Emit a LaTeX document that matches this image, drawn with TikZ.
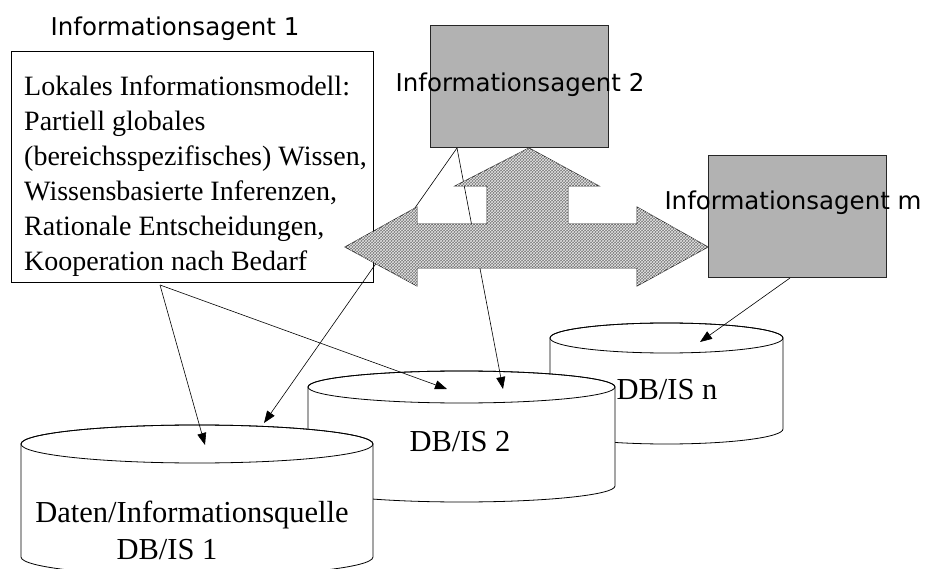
\documentclass[tikz,border=0pt]{standalone}
\usepackage{fontspec}
\setmainfont{Liberation Serif}
\newfontfamily\agentfont{DejaVu Sans}
\usetikzlibrary{arrows.meta,patterns}
\newcommand\dbcyl[5]{% cx, rx, top y, bottom y, ry
  \path[cylbody] (#1-#2,#3) -- (#1-#2,#4)
    arc[start angle=180,end angle=360,x radius=#2,y radius=#5]
    -- (#1+#2,#3)
    arc[start angle=0,end angle=180,x radius=#2,y radius=#5] -- cycle;
  \draw[cylline] (#1,#3) ellipse[x radius=#2,y radius=#5];
}
\begin{document}
\begin{tikzpicture}[x=1pt,y=1pt,
  cylbody/.style={draw=black,fill=white,line width=0.8pt},
  cylline/.style={draw=black,line width=0.8pt},
  dbtext/.style={font=\fontsize{30.5}{34}\selectfont,inner sep=0pt},
  conn/.style={-{Triangle[length=12pt,width=9pt]},line width=0.6pt},
  agentbox/.style={draw=black!85,fill=black!30,line width=0.8pt,
    minimum width=178pt,minimum height=122pt,inner sep=0pt,anchor=south west},
  agentlabel/.style={font=\agentfont\fontsize{24.5}{28}\selectfont,inner sep=0pt},
  bigarrow/.style={draw=black!85,fill=black!52,line width=0.8pt,
    postaction={pattern=crosshatch,pattern color=white!90!black}}
]
\path[use as bounding box,fill=white] (0,0) rectangle (926,568);
\clip (0,0) rectangle (926,568);

% cylinders, back to front
\dbcyl{666.5}{116.5}{230}{139}{15}
\dbcyl{461.5}{153.5}{181}{82}{16}
\dbcyl{197}{176}{124}{11}{19}

\node[dbtext] (dbn) at (667,178) {DB/IS n};
\node[dbtext] (db2) at (460,126) {DB/IS 2};
\node[dbtext] (db1a) at (192,53) {Daten/Informationsquelle};
\node[dbtext] (db1b) at (167,18) {DB/IS 1};

% text box of agent 1
\node[draw=black,line width=0.8pt,fill=white,minimum width=362pt,minimum height=231pt,
  inner sep=0pt,anchor=south west] (box1) at (11,285) {};
\node[font=\fontsize{28}{35}\selectfont,align=left,inner sep=0pt,anchor=north west]
  (t1) at (24,492) {Lokales Informationsmodell:\\
Partiell globales\\
(bereichsspezifisches) Wissen,\\
Wissensbasierte Inferenzen,\\
Rationale Entscheidungen,\\
Kooperation nach Bedarf};

% connector end points
\coordinate (b1s) at (160,283);
\coordinate (a2s) at (457,420);
\coordinate (ams) at (790,290);
\coordinate (c1a) at (205,123);
\coordinate (c1b) at (264,145);
\coordinate (c2a) at (447,179);
\coordinate (c2b) at (503,179);
\coordinate (cn) at (700,226);

\draw[conn] (b1s) -- (c1a);
\draw[conn] (b1s) -- (c2a);
\draw[conn] (a2s) -- (c1b);
\draw[conn] (a2s) -- (c2b);
\draw[conn] (ams) -- (cn);

% big double arrow with upward arrow
\draw[bigarrow] (345,321) -- (417,361) -- (417,344) -- (487,344) -- (487,382)
  -- (455,382) -- (529,420) -- (599,382) -- (568,382) -- (568,344) -- (637,344)
  -- (637,361) -- (708,321) -- (637,282) -- (637,300) -- (417,300) -- (417,282) -- cycle;

% agent boxes
\node[agentbox] (ag2) at (430,420) {};
\node[agentbox] (agm) at (708,290) {};

\node[agentlabel] (l1) at (175,539) {Informationsagent 1};
\node[agentlabel] (l2) at (520,483) {Informationsagent 2};
\node[agentlabel] (lm) at (793,365) {Informationsagent m};
\end{tikzpicture}
\end{document}
